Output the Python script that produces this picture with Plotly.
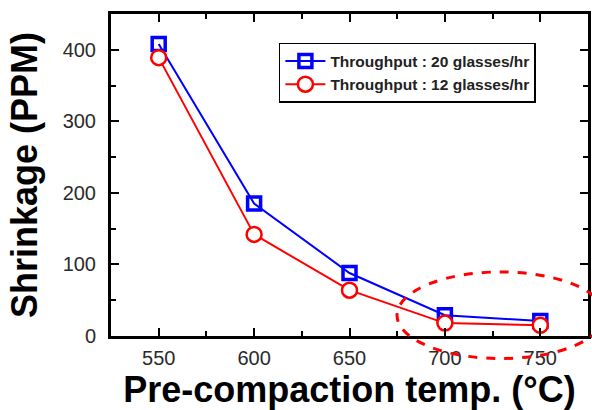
import plotly.graph_objects as go

temps = [550, 600, 650, 700, 750]
shrink_20 = [408, 185, 88, 29, 21]
shrink_12 = [389, 142, 64, 18, 15]
name_20 = "Throughput : 20 glasses/hr"
name_12 = "Throughput : 12 glasses/hr"
x_ticks = [550, 600, 650, 700, 750]
y_ticks = [0, 100, 200, 300, 400]
x_range = [525, 775]
y_range = [0, 450]

FONT = "Arial, Liberation Sans, sans-serif"

fig = go.Figure()
fig.add_trace(go.Scatter(
    x=temps, y=shrink_20, name=name_20, mode="lines+markers",
    line=dict(color="#0000FF", width=2),
    marker=dict(symbol="square-open", size=13, color="#0000FF", line=dict(width=3.5, color="#0000FF")),
))
fig.add_trace(go.Scatter(
    x=temps, y=shrink_12, name=name_12, mode="lines+markers",
    line=dict(color="#FF0000", width=2),
    marker=dict(symbol="circle", size=15, color="white", line=dict(width=2.5, color="#FF0000")),
))

axis_common = dict(
    showline=True, linecolor="black", linewidth=3, mirror="allticks",
    ticks="inside", ticklen=8, tickwidth=2, tickcolor="black",
    showgrid=False, zeroline=False, automargin=False,
    tickfont=dict(family=FONT, size=20, color="#2a2a2a"),
)
xminor = dict(dtick=25, tick0=525, ticks="inside", ticklen=5, tickwidth=2, tickcolor="black")
yminor = dict(dtick=50, tick0=0, ticks="inside", ticklen=5, tickwidth=2, tickcolor="black")

fig.update_layout(
    xaxis=dict(
        range=x_range, tickvals=x_ticks, minor=xminor,
        title=dict(text="<b>Pre-compaction temp. (°C)</b>", font=dict(family=FONT, size=36, color="black"), standoff=5),
        ticklabelstandoff=2, **axis_common,
    ),
    yaxis=dict(
        range=y_range, tickvals=y_ticks, minor=yminor,
        title=dict(text="<b>Shrinkage (PPM)</b>", font=dict(family=FONT, size=36, color="black"), standoff=15),
        ticklabelstandoff=8, **axis_common,
    ),
)

fig.add_shape(
    type="circle", xref="paper", yref="paper",
    x0=0.5996, x1=1.035, y0=-0.070, y1=0.199,
    line=dict(color="#FF0000", width=3, dash="dash"),
    layer="above",
)

fig.update_layout(
    width=592, height=410,
    margin=dict(l=111, r=4, t=14, b=74),
    paper_bgcolor="white", plot_bgcolor="white",
    showlegend=True,
    legend=dict(
        x=0.352, y=0.91, xanchor="left", yanchor="top",
        bordercolor="black", borderwidth=1.5, bgcolor="white",
        font=dict(family=FONT, size=15.5, color="#222222", weight="bold"),
        itemwidth=40, tracegroupgap=0,
    ),
)

fig.write_html(
    "out.html",
    config={"displayModeBar": False},
    post_script="document.body.style.margin='0';document.body.style.overflow='hidden';",
)
